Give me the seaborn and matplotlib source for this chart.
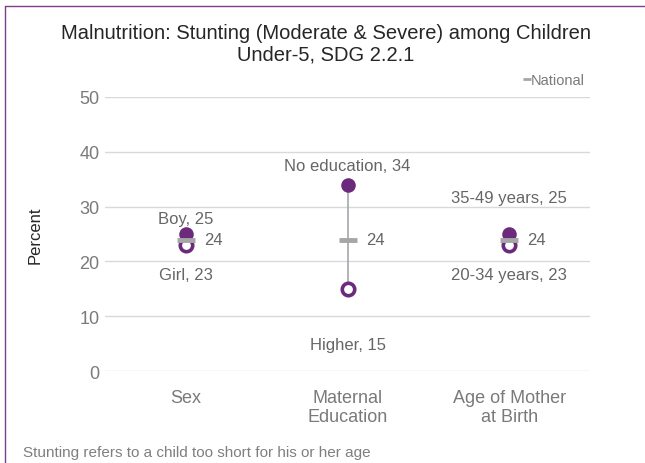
import matplotlib
matplotlib.use("Agg")
import matplotlib.pyplot as plt
from matplotlib.lines import Line2D
import seaborn as sns
import pandas as pd

# data
categories = ["Sex", "Maternal\nEducation", "Age of Mother\nat Birth"]
high_labels = ["Boy", "No education", "35-49 years"]
high_values = [25, 34, 25]
low_labels = ["Girl", "Higher", "20-34 years"]
low_values = [23, 15, 23]
national = [24, 24, 24]

purple = "#6C2A7C"
grey_txt = "#666666"

sns.set_style("white")
plt.rcParams["font.family"] = ["Liberation Sans", "DejaVu Sans"]

df = pd.DataFrame({"x": range(len(categories)), "high": high_values,
                   "low": low_values, "nat": national})

fig = plt.figure(figsize=(6.45, 4.64), dpi=100)
ax = fig.add_axes([0.163, 0.198, 0.752, 0.591])

for y in range(0, 51, 10):
    ax.axhline(y, color="#D9D9D9", lw=1, zorder=0)

# range line between low and high
ax.vlines(df["x"], df["low"], df["high"], color="#A6A6AE", lw=1.2, zorder=1)

sns.scatterplot(data=df, x="x", y="high", ax=ax, color=purple, s=110,
                edgecolor=purple, linewidth=0, zorder=3, legend=False)
sns.scatterplot(data=df, x="x", y="low", ax=ax, facecolor="white", s=80,
                edgecolor=purple, linewidth=2.6, zorder=4, legend=False)
ax.plot(df["x"], df["nat"], ls="none", marker="_", ms=13, mew=3.5,
        color="#A6A6A6", zorder=5)

# labels
high_off = [11, 14, 26]
low_off = [-21, -40, -21]
for i in range(len(categories)):
    ax.annotate(f"{high_labels[i]}, {high_values[i]}", (i, high_values[i]),
                xytext=(0, high_off[i]), textcoords="offset points",
                ha="center", va="center", fontsize=12, color=grey_txt)
    ax.annotate(f"{low_labels[i]}, {low_values[i]}", (i, low_values[i]),
                xytext=(0, low_off[i]), textcoords="offset points",
                ha="center", va="center", fontsize=12, color=grey_txt)
    ax.annotate(f"{national[i]}", (i, national[i]), xytext=(13, 0),
                textcoords="offset points", ha="left", va="center",
                fontsize=12, color=grey_txt)

ax.set_xlim(-0.5, 2.5)
ax.set_ylim(0, 50)
ax.set_xticks(range(len(categories)))
ax.set_xticklabels(categories, fontsize=13, color="#7A7A7A", linespacing=1.15)
ax.set_yticks(range(0, 51, 10))
ax.tick_params(axis="y", labelsize=13, labelcolor="#7A7A7A", length=0, pad=4)
ax.tick_params(axis="x", length=0, pad=13)
ax.set_xlabel("")
ax.set_ylabel("Percent", fontsize=12, color="#262626")
ax.yaxis.set_label_coords(-0.128, 0.5)
sns.despine(ax=ax, left=True, bottom=True)
ax.set_facecolor("none")

# legend
ax.legend(handles=[Line2D([], [], ls="none", marker="_", ms=6, mew=2,
                          color="#A6A6A6")], labels=["National"],
          loc="center right", bbox_to_anchor=(1.0, 1.06), frameon=False,
          handlelength=0.4, handletextpad=0.05, fontsize=10.5,
          labelcolor="#7A7A7A", borderaxespad=0)

fig.text(0.505, 0.905, "Malnutrition: Stunting (Moderate & Severe) among Children\nUnder-5, SDG 2.2.1",
         ha="center", va="center", fontsize=14.5, color="#262626", linespacing=1.15)
fig.text(0.036, 0.024, "Stunting refers to a child too short for his or her age",
         ha="left", va="center", fontsize=11, color="#7F7F7F")

# purple frame
fig.add_artist(Line2D([0.008, 1.0], [0.985, 0.985], color="#7B3F8C", lw=1.0))
fig.add_artist(Line2D([0.008, 0.008], [0.0, 0.985], color="#7B3F8C", lw=1.0))

fig.savefig("out.png", dpi=100)
